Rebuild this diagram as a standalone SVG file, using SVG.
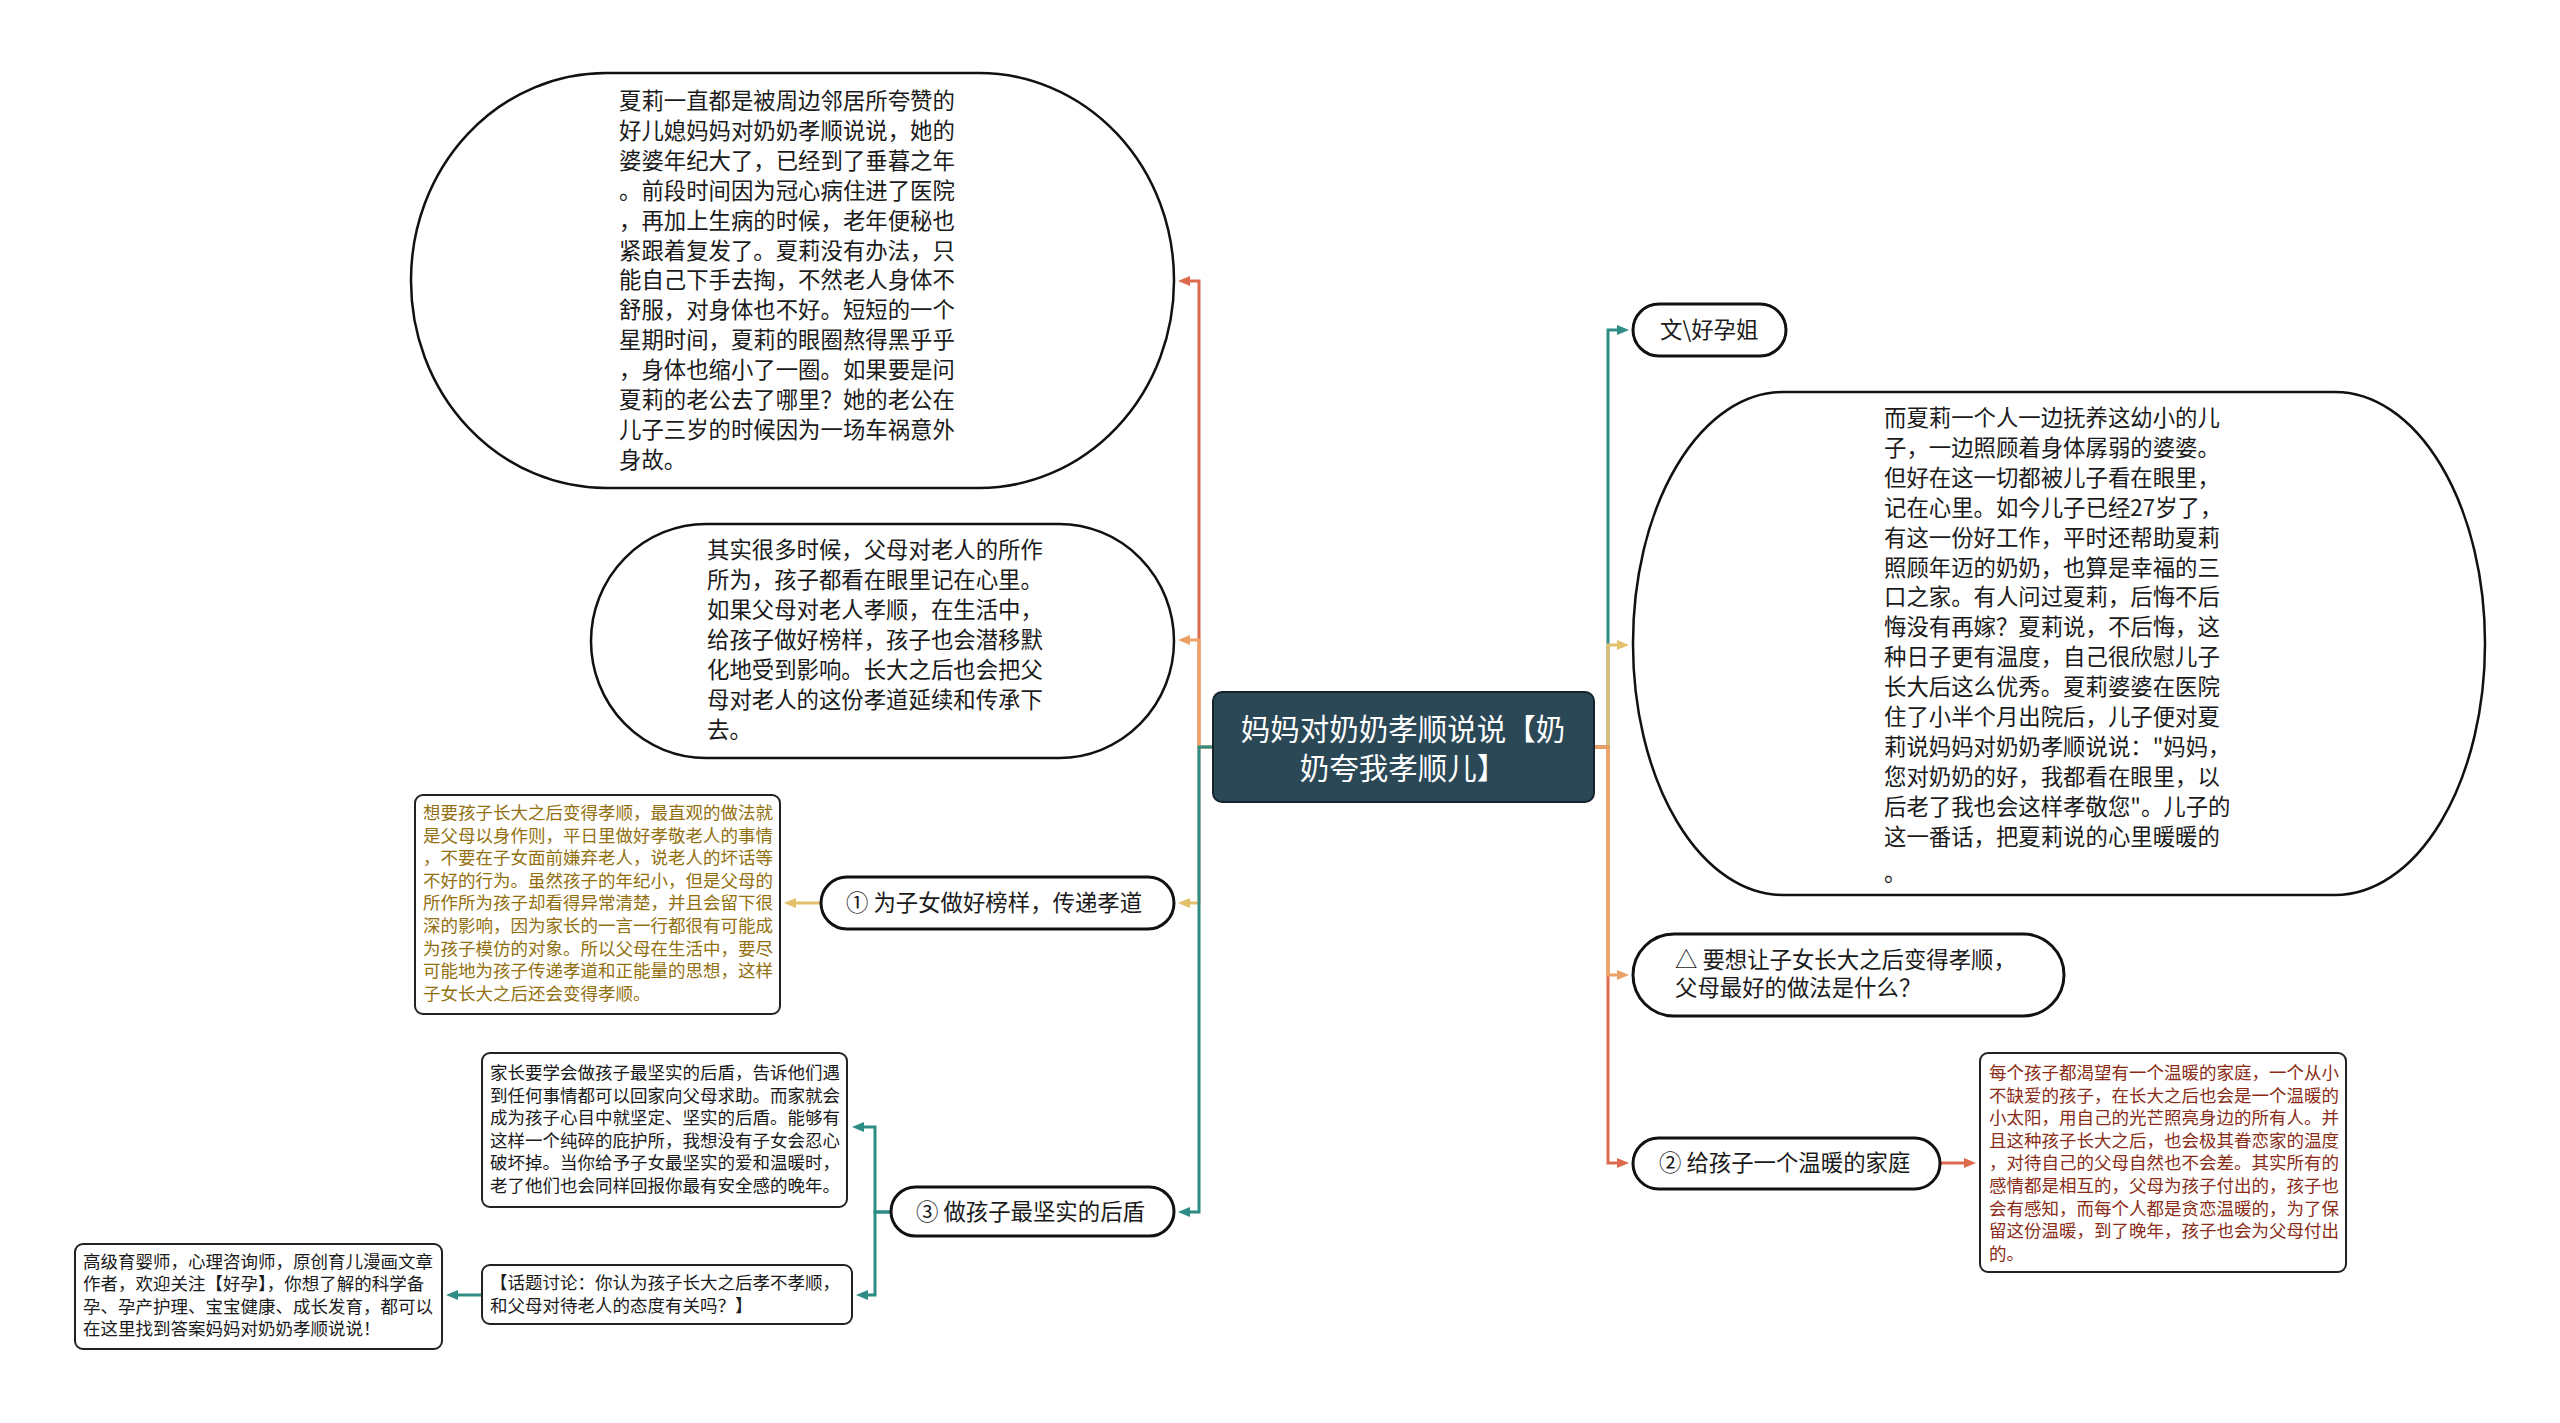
<svg xmlns="http://www.w3.org/2000/svg" width="2560" height="1423" viewBox="0 0 2560 1423">
<style>
text{font-family:"Noto Sans CJK SC","Noto Sans",sans-serif;}
.big{fill:#fff;stroke:#111;stroke-width:2.5;}
.pill{fill:#fff;stroke:#111;stroke-width:3;}
.box{fill:#fff;stroke:#222;stroke-width:2;}
.t22{font-size:22.4px;fill:#1a1a1a;}
.t17{font-size:17.5px;fill:#1a1a1a;}
.gold{fill:#93700f;}
.red{fill:#8a2c17;}
.root{font-size:29.5px;fill:#fff;}
.c{fill:none;stroke-width:3;}
.cr{stroke:#de6a4d;}
.co{stroke:#eba066;}
.cg{stroke:#e3c06c;}
.ct{stroke:#2d8c83;}
</style>
<defs>
<marker id="ar" viewBox="0 0 12 10" refX="4" refY="5" markerWidth="12" markerHeight="10" markerUnits="userSpaceOnUse" orient="auto"><path d="M0,0 L12,5 L0,10 z" fill="#de6a4d"/></marker>
<marker id="ao" viewBox="0 0 12 10" refX="4" refY="5" markerWidth="12" markerHeight="10" markerUnits="userSpaceOnUse" orient="auto"><path d="M0,0 L12,5 L0,10 z" fill="#eba066"/></marker>
<marker id="ag" viewBox="0 0 12 10" refX="4" refY="5" markerWidth="12" markerHeight="10" markerUnits="userSpaceOnUse" orient="auto"><path d="M0,0 L12,5 L0,10 z" fill="#e3c06c"/></marker>
<marker id="at" viewBox="0 0 12 10" refX="4" refY="5" markerWidth="12" markerHeight="10" markerUnits="userSpaceOnUse" orient="auto"><path d="M0,0 L12,5 L0,10 z" fill="#2d8c83"/></marker>
</defs>
<rect width="2560" height="1423" fill="#fff"/>

<g id="connectors">
<path class="c cr" d="M1213,747 H1199 V281 H1186" marker-end="url(#ar)"/>
<path class="c co" d="M1213,747 H1199 V640 H1186" marker-end="url(#ao)"/>
<path class="c cg" d="M1213,747 H1199 V903 H1186" marker-end="url(#ag)"/>
<path class="c ct" d="M1213,747 H1199 V1212 H1186" marker-end="url(#at)"/>
<path class="c cg" d="M821,903 H792" marker-end="url(#ag)"/>
<path class="c ct" d="M891,1212 H875 V1127 H860" marker-end="url(#at)"/>
<path class="c ct" d="M891,1212 H875 V1295 H864" marker-end="url(#at)"/>
<path class="c ct" d="M482,1295 H454" marker-end="url(#at)"/>
<path class="c ct" d="M1594,747 H1608 V330 H1621" marker-end="url(#at)"/>
<path class="c cg" d="M1594,747 H1608 V645 H1621" marker-end="url(#ag)"/>
<path class="c cr" d="M1594,747 H1608 V1163 H1621" marker-end="url(#ar)"/>
<path class="c co" d="M1594,747 H1608 V975 H1621" marker-end="url(#ao)"/>
<path class="c cr" d="M1940,1163 H1968" marker-end="url(#ar)"/>
</g>

<g id="root">
<rect x="1213" y="692" width="381" height="110" rx="9" fill="#2b4856" stroke="#15242c" stroke-width="2"/>
<text class="root" x="1403" y="740" text-anchor="middle">妈妈对奶奶孝顺说说【奶</text>
<text class="root" x="1403" y="779" text-anchor="middle">奶夸我孝顺儿】</text>
</g>

<g id="node-story1">
<rect class="big" x="411" y="73" width="763" height="415" rx="195" ry="207"/>
<text class="t22"><tspan x="619" y="109">夏莉一直都是被周边邻居所夸赞的</tspan><tspan x="619" dy="29.9">好儿媳妈妈对奶奶孝顺说说，她的</tspan><tspan x="619" dy="29.9">婆婆年纪大了，已经到了垂暮之年</tspan><tspan x="619" dy="29.9">。前段时间因为冠心病住进了医院</tspan><tspan x="619" dy="29.9">，再加上生病的时候，老年便秘也</tspan><tspan x="619" dy="29.9">紧跟着复发了。夏莉没有办法，只</tspan><tspan x="619" dy="29.9">能自己下手去掏，不然老人身体不</tspan><tspan x="619" dy="29.9">舒服，对身体也不好。短短的一个</tspan><tspan x="619" dy="29.9">星期时间，夏莉的眼圈熬得黑乎乎</tspan><tspan x="619" dy="29.9">，身体也缩小了一圈。如果要是问</tspan><tspan x="619" dy="29.9">夏莉的老公去了哪里？她的老公在</tspan><tspan x="619" dy="29.9">儿子三岁的时候因为一场车祸意外</tspan><tspan x="619" dy="29.9">身故。</tspan></text>
</g>

<g id="node-story2">
<rect class="big" x="591" y="524" width="583" height="234" rx="115" ry="117"/>
<text class="t22"><tspan x="707" y="558">其实很多时候，父母对老人的所作</tspan><tspan x="707" dy="30">所为，孩子都看在眼里记在心里。</tspan><tspan x="707" dy="30">如果父母对老人孝顺，在生活中，</tspan><tspan x="707" dy="30">给孩子做好榜样，孩子也会潜移默</tspan><tspan x="707" dy="30">化地受到影响。长大之后也会把父</tspan><tspan x="707" dy="30">母对老人的这份孝道延续和传承下</tspan><tspan x="707" dy="30">去。</tspan></text>
</g>

<g id="node-1">
<rect class="pill" x="821" y="877" width="353" height="52" rx="26"/>
<text class="t22" x="846" y="911">① 为子女做好榜样，传递孝道</text>
</g>

<g id="node-1-detail">
<rect class="box" x="415" y="795" width="365" height="219" rx="8"/>
<text class="t17 gold"><tspan x="423" y="819">想要孩子长大之后变得孝顺，最直观的做法就</tspan><tspan x="423" dy="22.6">是父母以身作则，平日里做好孝敬老人的事情</tspan><tspan x="423" dy="22.6">，不要在子女面前嫌弃老人，说老人的坏话等</tspan><tspan x="423" dy="22.6">不好的行为。虽然孩子的年纪小，但是父母的</tspan><tspan x="423" dy="22.6">所作所为孩子却看得异常清楚，并且会留下很</tspan><tspan x="423" dy="22.6">深的影响，因为家长的一言一行都很有可能成</tspan><tspan x="423" dy="22.6">为孩子模仿的对象。所以父母在生活中，要尽</tspan><tspan x="423" dy="22.6">可能地为孩子传递孝道和正能量的思想，这样</tspan><tspan x="423" dy="22.6">子女长大之后还会变得孝顺。</tspan></text>
</g>

<g id="node-3">
<rect class="pill" x="891" y="1187" width="283" height="49" rx="24.5"/>
<text class="t22" x="916" y="1220">③ 做孩子最坚实的后盾</text>
</g>

<g id="node-3-detail">
<rect class="box" x="482" y="1053" width="365" height="154" rx="8"/>
<text class="t17"><tspan x="490" y="1079">家长要学会做孩子最坚实的后盾，告诉他们遇</tspan><tspan x="490" dy="22.5">到任何事情都可以回家向父母求助。而家就会</tspan><tspan x="490" dy="22.5">成为孩子心目中就坚定、坚实的后盾。能够有</tspan><tspan x="490" dy="22.5">这样一个纯碎的庇护所，我想没有子女会忍心</tspan><tspan x="490" dy="22.5">破坏掉。当你给予子女最坚实的爱和温暖时，</tspan><tspan x="490" dy="22.5">老了他们也会同样回报你最有安全感的晚年。</tspan></text>
</g>

<g id="node-topic">
<rect class="box" x="482" y="1265" width="370" height="59" rx="8"/>
<text class="t17"><tspan x="490" y="1289">【话题讨论：你认为孩子长大之后孝不孝顺，</tspan><tspan x="490" dy="23">和父母对待老人的态度有关吗？】</tspan></text>
</g>

<g id="node-author">
<rect class="box" x="75" y="1244" width="367" height="105" rx="8"/>
<text class="t17"><tspan x="83" y="1268">高级育婴师，心理咨询师，原创育儿漫画文章</tspan><tspan x="83" dy="22.4">作者，欢迎关注【好孕】，你想了解的科学备</tspan><tspan x="83" dy="22.4">孕、孕产护理、宝宝健康、成长发育，都可以</tspan><tspan x="83" dy="22.4">在这里找到答案妈妈对奶奶孝顺说说！</tspan></text>
</g>

<g id="node-byline">
<rect class="pill" x="1633" y="304" width="153" height="52" rx="26"/>
<text class="t22" x="1660" y="338">文\好孕姐</text>
</g>

<g id="node-story3">
<rect class="big" x="1633" y="392" width="852" height="503" rx="150" ry="251"/>
<text class="t22"><tspan x="1884" y="426">而夏莉一个人一边抚养这幼小的儿</tspan><tspan x="1884" dy="29.9">子，一边照顾着身体孱弱的婆婆。</tspan><tspan x="1884" dy="29.9">但好在这一切都被儿子看在眼里，</tspan><tspan x="1884" dy="29.9">记在心里。如今儿子已经27岁了，</tspan><tspan x="1884" dy="29.9">有这一份好工作，平时还帮助夏莉</tspan><tspan x="1884" dy="29.9">照顾年迈的奶奶，也算是幸福的三</tspan><tspan x="1884" dy="29.9">口之家。有人问过夏莉，后悔不后</tspan><tspan x="1884" dy="29.9">悔没有再嫁？夏莉说，不后悔，这</tspan><tspan x="1884" dy="29.9">种日子更有温度，自己很欣慰儿子</tspan><tspan x="1884" dy="29.9">长大后这么优秀。夏莉婆婆在医院</tspan><tspan x="1884" dy="29.9">住了小半个月出院后，儿子便对夏</tspan><tspan x="1884" dy="29.9">莉说妈妈对奶奶孝顺说说："妈妈，</tspan><tspan x="1884" dy="29.9">您对奶奶的好，我都看在眼里，以</tspan><tspan x="1884" dy="29.9">后老了我也会这样孝敬您"。儿子的</tspan><tspan x="1884" dy="29.9">这一番话，把夏莉说的心里暖暖的</tspan><tspan x="1884" dy="36.5">。</tspan></text>
</g>

<g id="node-question">
<rect class="pill" x="1633" y="934" width="431" height="82" rx="41"/>
<text class="t22"><tspan x="1675" y="968">△ 要想让子女长大之后变得孝顺，</tspan><tspan x="1675" dy="28">父母最好的做法是什么？</tspan></text>
</g>

<g id="node-2">
<rect class="pill" x="1633" y="1138" width="307" height="51" rx="25.5"/>
<text class="t22" x="1659" y="1171">② 给孩子一个温暖的家庭</text>
</g>

<g id="node-2-detail">
<rect class="box" x="1980" y="1053" width="366" height="219" rx="8"/>
<text class="t17 red"><tspan x="1989" y="1079">每个孩子都渴望有一个温暖的家庭，一个从小</tspan><tspan x="1989" dy="22.6">不缺爱的孩子，在长大之后也会是一个温暖的</tspan><tspan x="1989" dy="22.6">小太阳，用自己的光芒照亮身边的所有人。并</tspan><tspan x="1989" dy="22.6">且这种孩子长大之后，也会极其眷恋家的温度</tspan><tspan x="1989" dy="22.6">，对待自己的父母自然也不会差。其实所有的</tspan><tspan x="1989" dy="22.6">感情都是相互的，父母为孩子付出的，孩子也</tspan><tspan x="1989" dy="22.6">会有感知，而每个人都是贪恋温暖的，为了保</tspan><tspan x="1989" dy="22.6">留这份温暖，到了晚年，孩子也会为父母付出</tspan><tspan x="1989" dy="22.6">的。</tspan></text>
</g>
</svg>
